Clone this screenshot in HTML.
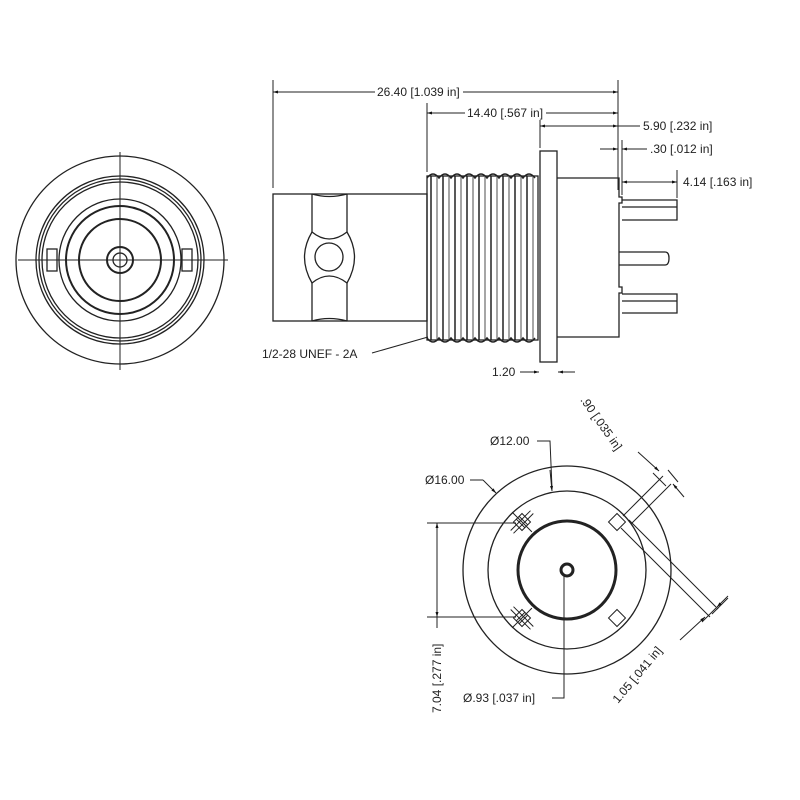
<!DOCTYPE html>
<html><head><style>body{margin:0;background:#fff}svg{display:block}text{font-family:"Liberation Sans",sans-serif;font-size:12px;fill:#222}</style></head>
<body>
<svg width="800" height="800" viewBox="0 0 800 800" xmlns="http://www.w3.org/2000/svg">
<defs>
<marker id="a" viewBox="0 0 10 10" refX="10" refY="5" markerWidth="7" markerHeight="5" orient="auto-start-reverse"><path d="M0,2 L10,5 L0,8z" fill="#111"/></marker>
</defs>
<g fill="none" stroke="#222" stroke-width="1.3">
<!-- left end view -->
<circle cx="120" cy="260" r="104"/>
<circle cx="120" cy="260" r="84"/>
<circle cx="120" cy="260" r="81"/>
<circle cx="120" cy="260" r="78"/>
<circle cx="120" cy="260" r="61"/>
<circle cx="120" cy="260" r="54" stroke-width="2"/>
<circle cx="120" cy="260" r="41" stroke-width="2"/>
<circle cx="120" cy="260" r="13" stroke-width="2"/>
<circle cx="120" cy="260" r="7"/>
<rect x="47" y="249" width="10" height="22" fill="#fff"/>
<rect x="182" y="249" width="10" height="22" fill="#fff"/>
<line x1="18" y1="260" x2="228" y2="260" stroke-width="1"/>
<line x1="120" y1="152" x2="120" y2="370" stroke-width="1"/>

<!-- side view -->
<rect x="273" y="194" width="154" height="127"/>
<path d="M312 194 V232 M347 194 V232 M312 283 V321 M347 283 V321"/>
<path d="M312 194 Q329 199 347 194 M312 321 Q329 316 347 321"/>
<path d="M312 232 Q297 257 312 283 M347 232 Q362 257 347 283"/>
<path d="M312 232 Q329 246 347 232 M312 283 Q329 269 347 283"/>
<circle cx="329" cy="257" r="14"/>
<!-- thread -->
<rect x="427" y="176" width="111" height="164"/>
<g stroke-width="1.5">
<path d="M431 176 V340 M443 176 V340 M455 176 V340 M467 176 V340 M479 176 V340 M491 176 V340 M503 176 V340 M515 176 V340 M527 176 V340"/>
<path d="M437 176 V340 M449 176 V340 M461 176 V340 M473 176 V340 M485 176 V340 M497 176 V340 M509 176 V340 M521 176 V340 M533 176 V340" stroke="#888"/>
<path d="M427 178 q6 -8 12 0 q6 -8 12 0 q6 -8 12 0 q6 -8 12 0 q6 -8 12 0 q6 -8 12 0 q6 -8 12 0 q6 -8 12 0 q6 -8 12 0"/>
<path d="M427 338 q6 8 12 0 q6 8 12 0 q6 8 12 0 q6 8 12 0 q6 8 12 0 q6 8 12 0 q6 8 12 0 q6 8 12 0 q6 8 12 0"/>
</g>
<!-- flange & rear -->
<rect x="540" y="151" width="17" height="211"/>
<path d="M557 178 H619 V197 h3 v6 h-3 V287 h3 v6 h-3 V337 H557"/>
<path d="M622 200 H677 V220 H622 M622 207 H677"/>
<path d="M619 252 H665 q4 0 4 6 q0 7 -4 7 H619"/>
<path d="M622 294 H677 V313 H622 M622 301 H677"/>
<!-- dims side -->
<g stroke-width="1">
<path d="M273 80 V188 M618 80 V190 M427 103 V172 M540 120 V148 M622 140 V195 M677 170 V198"/>
<line x1="273" y1="92" x2="375" y2="92" marker-start="url(#a)"/><line x1="463" y1="92" x2="618" y2="92" marker-end="url(#a)"/>
<line x1="427" y1="113" x2="465" y2="113" marker-start="url(#a)"/><line x1="546" y1="113" x2="618" y2="113" marker-end="url(#a)"/>
<line x1="540" y1="126" x2="640" y2="126" marker-start="url(#a)"/><line x1="600" y1="126" x2="618" y2="126" marker-end="url(#a)"/>
<line x1="600" y1="149" x2="618" y2="149" marker-end="url(#a)"/><line x1="647" y1="149" x2="622" y2="149" marker-end="url(#a)"/>
<line x1="622" y1="182" x2="677" y2="182" marker-start="url(#a)" marker-end="url(#a)"/>
<line x1="372" y1="353" x2="428" y2="337"/>
<line x1="520" y1="372" x2="539" y2="372" marker-end="url(#a)"/>
<line x1="575" y1="372" x2="558" y2="372" marker-end="url(#a)"/>
</g>

<!-- bottom view -->
<circle cx="567" cy="570" r="104"/>
<circle cx="567" cy="570" r="79"/>
<circle cx="567" cy="570" r="49" stroke-width="3"/>
<circle cx="567" cy="570" r="6" stroke-width="3"/>
<g stroke-width="1">
<g transform="translate(522 522) rotate(45)"><rect x="-6" y="-6" width="12" height="12"/><path d="M-2 -14 V14 M2 -14 V14 M-14 0 H14 M-6 -2 H6 M-6 2 H6"/></g>
<g transform="translate(522 618) rotate(-45)"><rect x="-6" y="-6" width="12" height="12"/><path d="M-2 -14 V14 M2 -14 V14 M-14 0 H14 M-6 -2 H6 M-6 2 H6"/></g>
<rect x="-6" y="-6" width="12" height="12" transform="translate(617 522) rotate(45)"/>
<rect x="-6" y="-6" width="12" height="12" transform="translate(617 618) rotate(45)"/>
<path d="M427 523 H516 M427 617 H516"/>
<line x1="437" y1="570" x2="437" y2="523" marker-end="url(#a)"/>
<line x1="437" y1="570" x2="437" y2="617" marker-end="url(#a)"/>
<path d="M437 617 V628"/>
<path d="M623 516 L663 476 M631 524 L671 484"/>
<path d="M621 528 L710 617 M629 520 L718 609"/>
<path d="M653 473 L666 486 M668 470 L678 482"/>
<line x1="638" y1="452" x2="659" y2="471" marker-end="url(#a)"/>
<line x1="684" y1="497" x2="673" y2="484" marker-end="url(#a)"/>
<path d="M702 622 L716 608 M712 614 L728 598"/>
<line x1="680" y1="640" x2="705" y2="617" marker-end="url(#a)"/>
<line x1="728" y1="596" x2="717" y2="607" marker-end="url(#a)"/>
<path d="M537 441 H550 L552 488" /><line x1="550" y1="470" x2="552" y2="491" marker-end="url(#a)"/>
<path d="M470 480 H483"/><line x1="483" y1="480" x2="496" y2="493" marker-end="url(#a)"/>
<path d="M552 698 H564 V575"/>
</g>
</g>
<g>
<text x="377" y="96">26.40 [1.039 in]</text>
<text x="467" y="117">14.40 [.567 in]</text>
<text x="643" y="130">5.90 [.232 in]</text>
<text x="650" y="153">.30 [.012 in]</text>
<text x="683" y="186">4.14 [.163 in]</text>
<text x="262" y="358">1/2-28 UNEF - 2A</text>
<text x="492" y="376">1.20</text>
<text x="490" y="445">Ø12.00</text>
<text x="425" y="484">Ø16.00</text>
<text x="463" y="702">Ø.93 [.037 in]</text>
<text transform="translate(441 713) rotate(-90)">7.04 [.277 in]</text>
<text transform="translate(580 400) rotate(55)">.90 [.035 in]</text>
<text transform="translate(618 704) rotate(-50)">1.05 [.041 in]</text>
</g>
</svg>
</body></html>
